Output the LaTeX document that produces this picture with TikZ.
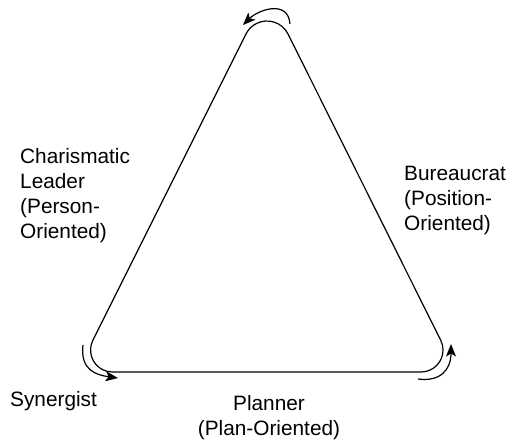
\documentclass[tikz,border=0pt]{standalone}
\usepackage{fontspec}
\setmainfont{Liberation Sans}
\usetikzlibrary{arrows.meta}
\begin{document}
\begin{tikzpicture}[x=1pt,y=1pt,
  trishape/.style={line width=1.2pt, line join=round},
  curlarrow/.style={line width=1.2pt, -{Stealth[length=12.5pt,width=10pt,inset=3pt]}},
  lbl/.style={inner sep=0pt, font=\fontsize{20.8}{25}\selectfont, align=left}]
\useasboundingbox (0,0) rectangle (510,445);
% rounded triangle
\draw[trishape] (288,411) arc[start angle=26.57, end angle=153.43, radius=23.5]
  -- (92.9,104.8) arc[start angle=153.43, end angle=270, radius=22]
  -- (421,73) arc[start angle=270, end angle=386.57, radius=22] -- cycle;
% curved arrows at the corners
\draw[curlarrow] (290,421) .. controls (288,446) and (258,435) .. (243,420);
\draw[curlarrow] (83,100) .. controls (80,75) and (96,70) .. (118,67);
\draw[curlarrow] (418,66) .. controls (440,63) and (451,75) .. (451,101);
% labels (base anchor sits on the last line)
\node[lbl, anchor=base west] (leader) at (20,207) {Charismatic\\Leader\\(Person-\\Oriented)};
\node[lbl, anchor=base west] (bureau) at (404,215) {Bureaucrat\\(Position-\\Oriented)};
\node[lbl, anchor=base west] (syn) at (10,39) {Synergist};
\node[lbl, align=center, anchor=base] (plan) at (269,10) {Planner\\(Plan-Oriented)};
\end{tikzpicture}
\end{document}
